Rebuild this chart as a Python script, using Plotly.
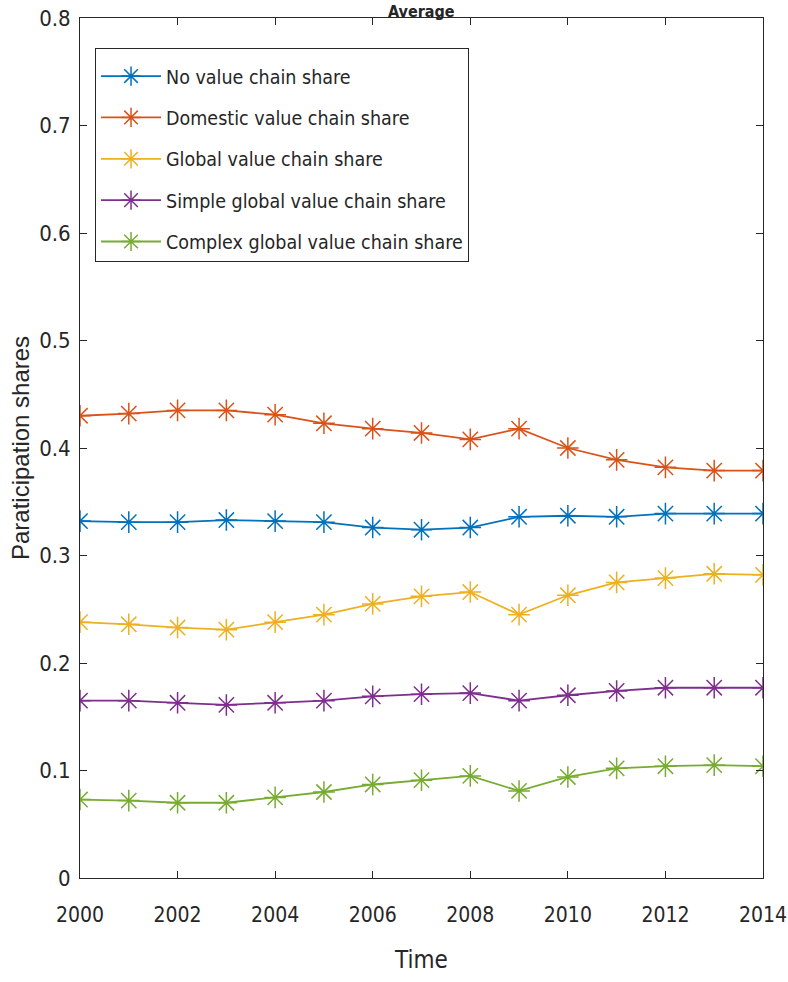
import plotly.graph_objects as go

years = list(range(2000, 2015))
no_vc = [0.332, 0.331, 0.331, 0.333, 0.332, 0.331, 0.326, 0.324, 0.326, 0.336, 0.337, 0.336, 0.339, 0.339, 0.339]
domestic_vc = [0.430, 0.432, 0.435, 0.435, 0.431, 0.423, 0.418, 0.414, 0.408, 0.418, 0.400, 0.389, 0.382, 0.379, 0.379]
global_vc = [0.238, 0.236, 0.233, 0.231, 0.238, 0.245, 0.255, 0.262, 0.266, 0.245, 0.263, 0.275, 0.279, 0.283, 0.282]
simple_gvc = [0.165, 0.165, 0.163, 0.161, 0.163, 0.165, 0.169, 0.171, 0.172, 0.165, 0.170, 0.174, 0.177, 0.177, 0.177]
complex_gvc = [0.073, 0.072, 0.070, 0.070, 0.075, 0.080, 0.087, 0.091, 0.095, 0.081, 0.094, 0.102, 0.104, 0.105, 0.104]

series_names = ["No value chain share", "Domestic value chain share", "Global value chain share",
                "Simple global value chain share", "Complex global value chain share"]
series_values = [no_vc, domestic_vc, global_vc, simple_gvc, complex_gvc]
colors = ["#0072BD", "#D95319", "#EDB120", "#7E2F8E", "#77AC30"]
x_ticks = list(range(2000, 2015, 2))

NARROW = "Liberation Sans Narrow, Arial Narrow, DejaVu Sans Condensed, Liberation Sans, Arial, sans-serif"
TXT = "#262626"

fig = go.Figure()
for i, (name, vals, col) in enumerate(zip(series_names, series_values, colors)):
    fig.add_trace(go.Scatter(
        x=years, y=vals, name=name, mode="lines+markers",
        legendgroup=f"g{i}",
        line=dict(color=col, width=1.8),
        marker=dict(symbol="asterisk-open", size=18, color=col, line=dict(color=col, width=1.5)),
    ))

fig.update_layout(
    width=788, height=982,
    margin=dict(l=80, r=25, t=18, b=104),
    plot_bgcolor="white", paper_bgcolor="white",
    font=dict(family=NARROW, size=22, color=TXT),
    showlegend=True,
    legend=dict(
        x=0.022, y=0.965, xanchor="left", yanchor="top",
        bgcolor="white", bordercolor=TXT, borderwidth=1,
        font=dict(family=NARROW, size=19.5, color=TXT),
        itemwidth=60, tracegroupgap=13, traceorder="grouped",
        title=dict(text="&nbsp;", font=dict(size=6)),
    ),
    xaxis=dict(
        range=[2000, 2014], tickvals=x_ticks, ticks="inside", ticklen=7,
        tickcolor=TXT, showline=True, linecolor=TXT, linewidth=1, mirror="ticks",
        showgrid=False, zeroline=False, ticklabelstandoff=18, automargin=False,
        ticklabeloverflow="allow",
        tickfont=dict(family=NARROW, size=21, color=TXT),
        title=dict(text="Time", font=dict(family=NARROW, size=24, color=TXT), standoff=24),
    ),
    yaxis=dict(
        range=[0, 0.8], dtick=0.1, ticks="inside", ticklen=7,
        tickcolor=TXT, showline=True, linecolor=TXT, linewidth=1, mirror="ticks",
        showgrid=False, zeroline=False, ticklabelstandoff=4, automargin=False,
        tickfont=dict(family=NARROW, size=22, color=TXT),
    ),
    annotations=[
        dict(text="Paraticipation shares", xref="paper", yref="paper", x=0, y=0.5,
             xshift=-60, textangle=-90, showarrow=False, xanchor="center", yanchor="middle",
             font=dict(family="Liberation Sans, Arial, sans-serif", size=24, color=TXT)),
        dict(text="<b>Average</b>", xref="paper", yref="paper", x=0.5, y=1, yshift=18,
             showarrow=False, xanchor="center", yanchor="top",
             font=dict(family=NARROW, size=16, color=TXT)),
    ],
)

fig.write_html("out.html", config={"displayModeBar": False},
               post_script="document.body.style.margin='0';")
